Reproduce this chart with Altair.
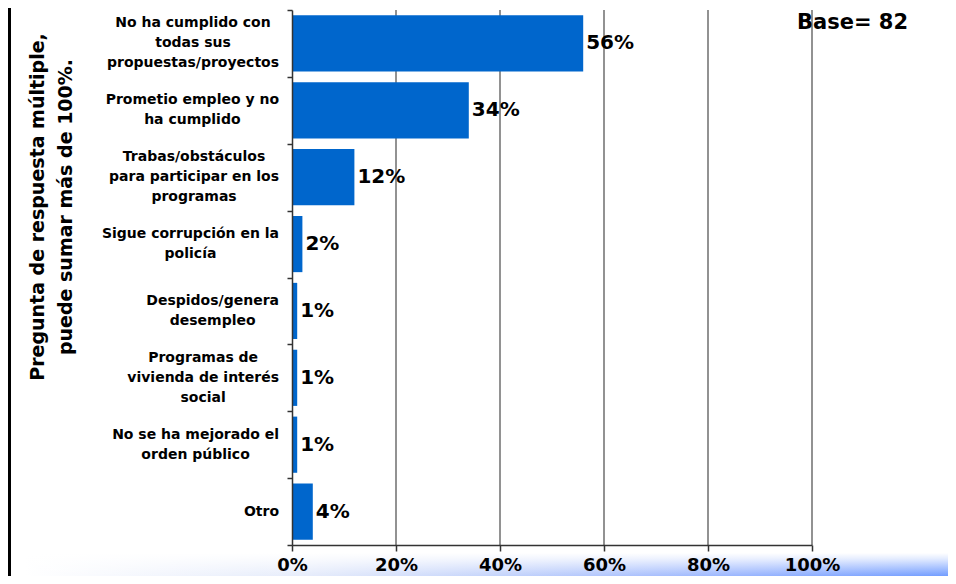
import altair as alt
import pandas as pd

# ---------------- data ----------------
categories = [
    "No ha cumplido con\ntodas sus\npropuestas/proyectos",
    "Prometio empleo y no\nha cumplido",
    "Trabas/obstáculos\npara participar en los\nprogramas",
    "Sigue corrupción en la\npolicía",
    "Despidos/genera\ndesempleo",
    "Programas de\nvivienda de interés\nsocial",
    "No se ha mejorado el\norden público",
    "Otro",
]
values = [56, 34, 12, 2, 1, 1, 1, 4]
x_ticks = [0, 20, 40, 60, 80, 100]
grid_ticks = [20, 40, 60, 80, 100]
base_text = "Base= 82"
y_title = ["Pregunta de respuesta múltiple,", "puede sumar más de 100%."]

# ---------------- layout helpers ----------------
W, H = 520, 535
STEP = H / len(categories)
FONT = "DejaVu Sans"
LABEL_SIZE = 14
LINE_H = 20

# approximate DejaVu Sans Bold advance widths (units per 2048 em)
_cw = {
    " ": 713, "/": 747, ",": 776, ".": 776, "%": 2052,
    "a": 1382, "b": 1466, "c": 1210, "d": 1466, "e": 1389, "f": 891,
    "g": 1466, "h": 1458, "i": 702, "j": 702, "k": 1362, "l": 702,
    "m": 2134, "n": 1458, "o": 1407, "p": 1466, "q": 1466, "r": 1010,
    "s": 1219, "t": 979, "u": 1458, "v": 1333, "w": 1817, "x": 1339,
    "y": 1333, "z": 1212, "á": 1382, "é": 1389, "í": 702, "ó": 1407,
    "ú": 1458, "N": 1714, "P": 1502, "T": 1398, "S": 1474, "D": 1706,
    "O": 1741,
}


def text_width(s, size):
    return sum(_cw.get(ch, 1400) for ch in s) / 2048 * size


label_x, label_dy = [], []
for c in categories:
    lines = c.split("\n")
    w = max(text_width(line, LABEL_SIZE) for line in lines)
    px = -13 - w / 2  # center of block, right edge 13px left of axis
    label_x.append(px / W * 100)
    label_dy.append(STEP / 2 - (len(lines) - 1) * LINE_H / 2)

df = pd.DataFrame({"cat": categories, "val": values, "lx": label_x, "dy": label_dy})
df["txt"] = df["val"].astype(str) + "%"

xscale = alt.Scale(domain=[0, 100], nice=False, zero=False)
yscale = alt.Scale(domain=categories, paddingInner=0, paddingOuter=0)

# ---------------- layers ----------------
grad_h = {
    "gradient": "linear", "x1": 0, "y1": 0, "x2": 1, "y2": 0,
    "stops": [
        {"offset": 0, "color": "#ffffff"},
        {"offset": 0.3, "color": "#e6ecfb"},
        {"offset": 0.51, "color": "#c4d3fb"},
        {"offset": 0.78, "color": "#98b4fe"},
        {"offset": 1, "color": "#729dff"},
    ],
}
grad_v = {
    "gradient": "linear", "x1": 0, "y1": 0, "x2": 0, "y2": 1,
    "stops": [
        {"offset": 0, "color": "rgba(255,255,255,1)"},
        {"offset": 0.25, "color": "rgba(255,255,255,0.8)"},
        {"offset": 1, "color": "rgba(255,255,255,0)"},
    ],
}
one = alt.Data(values=[{}])

strip = alt.Chart(one).mark_rect(color=grad_h, strokeWidth=0).encode(
    x=alt.value(-267), x2=alt.value(656), y=alt.value(543), y2=alt.value(566)
)
strip_fade = alt.Chart(one).mark_rect(color=grad_v, strokeWidth=0).encode(
    x=alt.value(-267), x2=alt.value(656), y=alt.value(543), y2=alt.value(566)
)

border = alt.Chart(one).mark_rule(color="black", strokeWidth=3).encode(
    x=alt.value(-282.5), y=alt.value(-2), y2=alt.value(566)
)

grid = alt.Chart(pd.DataFrame({"t": grid_ticks})).mark_rule(
    color="#6e6e6e", strokeWidth=1.5
).encode(
    x=alt.X("t:Q", scale=xscale, title=None),
    y=alt.value(0),
    y2=alt.value(H),
)

bars = alt.Chart(df).mark_bar(color="#0066CC", height={"band": 0.84}).encode(
    x=alt.X(
        "val:Q",
        scale=xscale,
        title=None,
        axis=alt.Axis(
            values=x_ticks,
            labelExpr="datum.value + '%'",
            grid=False,
            tickSize=6,
            tickColor="#333333",
            tickWidth=1.5,
            domainColor="#333333",
            domainWidth=1.5,
            labelFont=FONT,
            labelFontSize=18,
            labelFontWeight="bold",
            labelColor="black",
            labelPadding=5,
            labelFlush=False,
            zindex=1,
        ),
    ),
    y=alt.Y(
        "cat:N",
        scale=yscale,
        sort=categories,
        title=None,
        axis=alt.Axis(
            labels=False,
            tickBand="extent",
            tickSize=5,
            tickColor="#333333",
            tickWidth=1.5,
            domainColor="#333333",
            domainWidth=1.5,
            grid=False,
            zindex=1,
        ),
    ),
)

vals = alt.Chart(df).mark_text(
    align="left", baseline="middle", dx=3, font=FONT, fontSize=20,
    fontWeight="bold", color="black"
).encode(
    x=alt.X("val:Q", scale=xscale, title=None),
    y=alt.Y("cat:N", scale=yscale, sort=categories, title=None),
    text="txt:N",
)

cat_labels = alt.Chart(df).mark_text(
    align="center", baseline="middle", lineBreak="\n", lineHeight=LINE_H,
    font=FONT, fontSize=LABEL_SIZE, fontWeight="bold", color="black"
).encode(
    x=alt.X("lx:Q", scale=xscale, title=None),
    y=alt.Y("cat:N", scale=yscale, sort=categories, title=None),
    yOffset=alt.YOffset("dy:Q", scale=None),
    text="cat:N",
)

ytitle = alt.Chart(one).mark_text(
    text=y_title, angle=270, align="center", baseline="middle",
    lineHeight=28, font=FONT, fontSize=19, fontWeight="bold", color="black"
).encode(x=alt.value(-254), y=alt.value(197))

base = alt.Chart(one).mark_text(
    text=base_text, align="left", baseline="middle", font=FONT,
    fontSize=21, fontWeight="bold", color="black"
).encode(x=alt.value(505), y=alt.value(13))

chart = alt.layer(
    strip, strip_fade, border, grid, bars, vals, cat_labels, ytitle, base
).properties(
    width=W,
    height=H,
    autosize=alt.AutoSizeParams(type="none"),
    padding={"left": 284, "top": 2, "right": 136, "bottom": 31},
).configure(background="white").configure_view(stroke=None)

chart.save("out.html", embed_options={"renderer": "svg", "actions": False})
